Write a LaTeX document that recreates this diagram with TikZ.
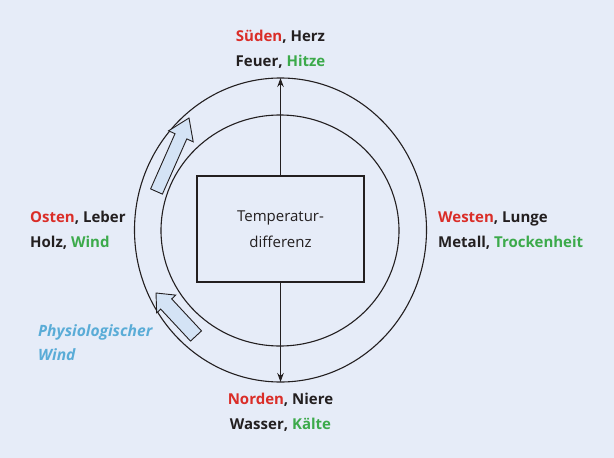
\documentclass[tikz,border=0pt]{standalone}
\usepackage{fontspec}
\setmainfont{Open Sans}
\usetikzlibrary{arrows.meta}
\definecolor{bg}{RGB}{230,236,248}
\definecolor{arrowfill}{RGB}{212,227,245}
\definecolor{ink}{RGB}{35,31,32}
\definecolor{dir}{RGB}{218,45,40}
\definecolor{elem}{RGB}{60,170,75}
\definecolor{wind}{RGB}{90,172,215}
\begin{document}
\begin{tikzpicture}[x=1pt,y=-1pt,
  lbl/.style={font=\fontsize{15}{18}\selectfont\bfseries, text=ink, inner sep=0pt},
  windlbl/.style={font=\fontsize{15.6}{18}\selectfont\bfseries\itshape, text=wind, inner sep=0pt, anchor=base west},
  ring/.style={draw=ink, line width=1.1pt},
  blockarrow/.style={draw=ink, line width=0.9pt, fill=arrowfill, line join=miter},
  conn/.style={draw=ink, line width=1.1pt, -{Stealth[length=9pt,width=6.5pt]}}]
\fill[bg] (0,0) rectangle (614,458);
\useasboundingbox (0,0) rectangle (614,458);
% rings
\draw[ring] (280.5,230) ellipse [x radius=146, y radius=152];
\draw[ring] (280,230.5) ellipse [x radius=119, y radius=115.5];
% centre box
\node[draw=ink, line width=1.1pt, fill=bg, minimum width=167pt, minimum height=106pt,
  align=center, font=\fontsize{15}{26.5}\selectfont, text=ink] (box) at (280.5,229)
  {Temperatur-\\differenz};
\coordinate (ntop) at (280.5,78);
\coordinate (nbot) at (280.5,382);
\draw[conn] (box.north) -- (ntop);
\draw[conn] (box.south) -- (nbot);
% block arrows (physiological wind)
\draw[blockarrow] (150.6,188.9) -- (175.0,133.7) -- (168.6,130.8) -- (189,118) -- (193.2,141.8) -- (186.8,138.9) -- (162.4,194.1) -- cycle;
\draw[blockarrow] (190.5,341.1) -- (160.7,309.1) -- (156.7,312.9) -- (156,293) -- (175.7,295.1) -- (171.7,298.9) -- (201.5,330.9) -- cycle;
% labels
\node[lbl, anchor=base] (s1) at (280.5,41) {\textcolor{dir}{Süden}, Herz};
\node[lbl, anchor=base] (s2) at (280.5,66) {Feuer, \textcolor{elem}{Hitze}};
\node[lbl, anchor=base] (n1) at (280.5,404) {\textcolor{dir}{Norden}, Niere};
\node[lbl, anchor=base] (n2) at (280.5,429) {Wasser, \textcolor{elem}{Kälte}};
\node[lbl, anchor=base west] (o1) at (30,222) {\textcolor{dir}{Osten}, Leber};
\node[lbl, anchor=base west] (o2) at (30,247) {Holz, \textcolor{elem}{Wind}};
\node[lbl, anchor=base west] (w1) at (438,222) {\textcolor{dir}{Westen}, Lunge};
\node[lbl, anchor=base west] (w2) at (438,247) {Metall, \textcolor{elem}{Trockenheit}};
\node[windlbl] (p1) at (38,336) {Physiologischer};
\node[windlbl] (p2) at (38,360) {Wind};
\end{tikzpicture}
\end{document}
